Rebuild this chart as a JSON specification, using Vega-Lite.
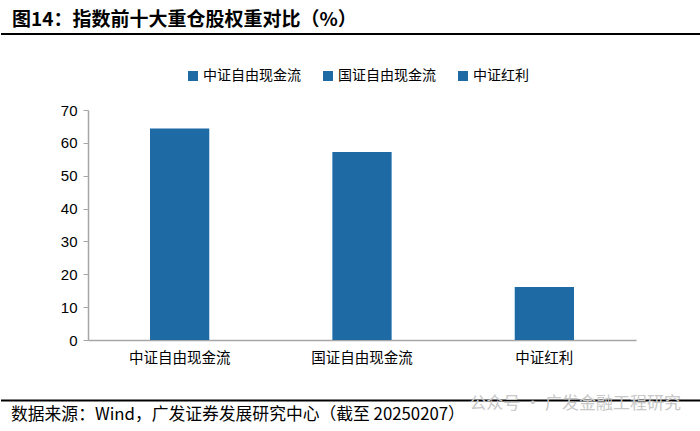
{
  "$schema": "https://vega.github.io/schema/vega-lite/v6.json",
  "padding": {"top": 11, "left": 0, "right": 0, "bottom": 0},
  "background": "white",
  "spacing": 30,
  "align": "none",
  "resolve": {"scale": {"color": "independent"}, "legend": {"color": "independent"}},
  "config": {
    "view": {"stroke": null},
    "font": "Noto Sans CJK SC"
  },
  "datasets": {
    "weights": [
      {"index": "中证自由现金流", "weight": 64.4},
      {"index": "国证自由现金流", "weight": 57.2},
      {"index": "中证红利", "weight": 16.1}
    ],
    "one": [{"v": 1, "mark": "公众号 · 广发金融工程研究"}]
  },
  "vconcat": [
    {
      "width": 700,
      "height": 5,
      "data": {"name": "one"},
      "title": {
        "text": "图14：指数前十大重仓股权重对比（%）",
        "anchor": "start",
        "frame": "group",
        "font": "Noto Sans CJK SC",
        "fontSize": 19,
        "fontWeight": "bold",
        "color": "#000000",
        "offset": 3,
        "dx": 11
      },
      "mark": {"type": "rule", "color": "#000000", "strokeWidth": 2},
      "encoding": {
        "y": {"field": "v", "type": "quantitative", "scale": {"domain": [0, 1]}, "axis": null}
      }
    },
    {
      "width": 635,
      "height": 230,
      "data": {"name": "weights"},
      "mark": {"type": "bar", "color": "#1D6AA5"},
      "encoding": {
        "x": {
          "field": "index",
          "type": "nominal",
          "sort": null,
          "scale": {"range": [87, 635], "paddingInner": 0.675, "paddingOuter": 0.34},
          "axis": {
            "title": null,
            "labelAngle": 0,
            "labelFont": "Noto Sans CJK SC",
            "labelFontSize": 14.5,
            "labelColor": "#000000",
            "labelPadding": 11,
            "ticks": false,
            "domainColor": "#A6A6A6",
            "domainWidth": 1.5
          }
        },
        "y": {
          "field": "weight",
          "type": "quantitative",
          "scale": {"domain": [0, 70], "nice": false},
          "axis": {
            "offset": -87,
            "values": [0, 10, 20, 30, 40, 50, 60, 70],
            "grid": false,
            "labelFont": "Liberation Sans",
            "labelFontSize": 15,
            "labelColor": "#000000",
            "labelPadding": 6,
            "tickSize": 5,
            "tickColor": "#A6A6A6",
            "domainColor": "#A6A6A6",
            "domainWidth": 1.5,
            "title": null
          }
        },
        "color": {
          "field": "index",
          "type": "nominal",
          "sort": null,
          "scale": {"domain": ["中证自由现金流", "国证自由现金流", "中证红利"], "range": ["#1D6AA5", "#1D6AA5", "#1D6AA5"]},
          "legend": {
            "title": null,
            "orient": "none",
            "direction": "horizontal",
            "legendX": 185,
            "legendY": -41,
            "symbolType": "square",
            "symbolSize": 100,
            "symbolStrokeWidth": 0,
            "labelFont": "Noto Sans CJK SC",
            "labelFontSize": 14,
            "labelColor": "#000000",
            "labelOffset": 3,
            "columnPadding": 20
          }
        }
      }
    },
    {
      "width": 700,
      "height": 1,
      "data": {"name": "one"},
      "title": {
        "text": "数据来源：Wind，广发证券发展研究中心（截至 20250207）",
        "orient": "bottom",
        "anchor": "start",
        "frame": "group",
        "font": "Noto Sans CJK SC",
        "fontSize": 16.8,
        "fontWeight": "normal",
        "color": "#000000",
        "offset": -5,
        "dx": 10
      },
      "layer": [
        {
          "mark": {"type": "rule", "color": "#000000", "strokeWidth": 2},
          "encoding": {
            "y": {"field": "v", "type": "quantitative", "scale": {"domain": [0, 2]}, "axis": null}
          }
        },
        {
          "mark": {"type": "text", "align": "right", "baseline": "middle", "fontSize": 17, "color": "#C8C8C8", "dx": -20, "dy": 4},
          "encoding": {
            "x": {"value": "width"},
            "y": {"value": 0},
            "text": {"field": "mark", "type": "nominal"}
          }
        }
      ]
    }
  ]
}
